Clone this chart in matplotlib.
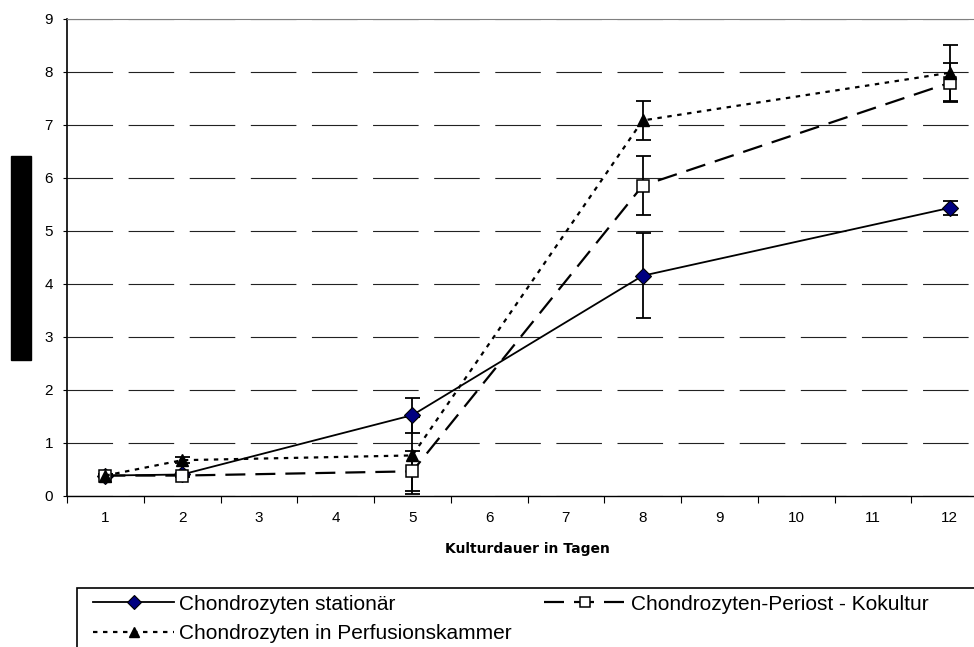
import matplotlib
matplotlib.use("Agg")
import matplotlib.pyplot as plt
from matplotlib.patches import Rectangle

# Kulturdauer (category positions 1..12), measured days
categories = [str(i) for i in range(1, 13)]
days = [1, 2, 5, 8, 12]

stationaer = [0.38, 0.40, 1.52, 4.15, 5.43]
stationaer_err = [0.02, 0.02, 0.33, 0.80, 0.13]

periost = [0.38, 0.38, 0.46, 5.85, 7.79]
periost_err = [0.02, 0.02, 0.38, 0.56, 0.37]

perfusion = [0.38, 0.67, 0.76, 7.08, 7.98]
perfusion_err = [0.02, 0.06, 0.72, 0.36, 0.53]

labels = ["Chondrozyten stationär", "Chondrozyten-Periost - Kokultur",
          "Chondrozyten in Perfusionskammer"]

W, H = 974, 647
plt.rcParams["font.family"] = ["Liberation Sans", "DejaVu Sans"]

fig = plt.figure(figsize=(W / 100, H / 100), dpi=100)
ax = fig.add_axes([67 / W, 1 - 495.7 / H, 921 / W, 477 / H])

x = list(range(1, len(categories) + 1))

ax.set_xlim(0.5, len(categories) + 0.5)
ax.set_ylim(0, 9)
ax.set_yticks(range(0, 10))
# ticks between categories, labels on the categories
ax.set_xticks([i + 0.5 for i in range(0, 13)])
ax.set_xticklabels([])
ax.set_xticks(x, minor=True)
ax.set_xticklabels(categories, minor=True)
ax.tick_params(axis="x", which="major", length=5, width=0.8, direction="out")
ax.tick_params(axis="x", which="minor", length=0, pad=11, labelsize=11)
ax.tick_params(axis="y", length=3, width=0.8, pad=7, labelsize=11)

ax.yaxis.grid(True, color="#222222", lw=0.8, linestyle=(0, (41, 14)))
ax.set_axisbelow(True)

ax.spines["right"].set_visible(False)
ax.spines["top"].set_color("#808080")
ax.spines["top"].set_linewidth(0.8)
ax.spines["left"].set_linewidth(1.2)
ax.spines["bottom"].set_linewidth(1.0)

err_kw = dict(fmt="none", ecolor="black", elinewidth=1.3, capsize=5.4, capthick=1.3, zorder=3)
ax.errorbar(days, stationaer, yerr=stationaer_err, **err_kw)
ax.errorbar(days, periost, yerr=periost_err, **err_kw)
ax.errorbar(days, perfusion, yerr=perfusion_err, **err_kw)

l1, = ax.plot(days, stationaer, color="black", lw=1.3, marker="D", ms=8,
              mfc="#000080", mec="black", mew=0.8, zorder=4)
l2, = ax.plot(days, periost, color="black", lw=1.6, linestyle=(0, (9, 4.5)), marker="s", ms=8.5,
              mfc="white", mec="black", mew=1.1, zorder=4)
l3, = ax.plot(days, perfusion, color="black", lw=1.6, linestyle=(0, (2, 2.5)), marker="^", ms=9,
              mfc="black", mec="black", zorder=4)

ax.set_xlabel("Kulturdauer in Tagen", fontsize=10, fontweight="bold",
              family=["DejaVu Sans"], labelpad=12)

# black box on the left (y axis title area)
fig.patches.append(Rectangle((11 / W, 1 - 360 / H), 20 / W, 204 / H,
                             transform=fig.transFigure, color="black"))

# legend frame runs past the figure edge
fig.patches.append(Rectangle((77 / W, 1 - 700 / H), 960 / W, 112 / H,
                             transform=fig.transFigure, fill=False, ec="black", lw=1.2))
fig.legend([l1, l3, l2], [labels[0], labels[2], labels[1]], ncol=2, loc="upper left",
           bbox_to_anchor=(78 / W, 1 - 580 / H), frameon=False, fontsize=15,
           handlelength=3.93, handletextpad=0.24, columnspacing=1.54, labelspacing=0.49,
           borderpad=0.2, markerscale=0.85)

fig.savefig("out.png", dpi=100)
